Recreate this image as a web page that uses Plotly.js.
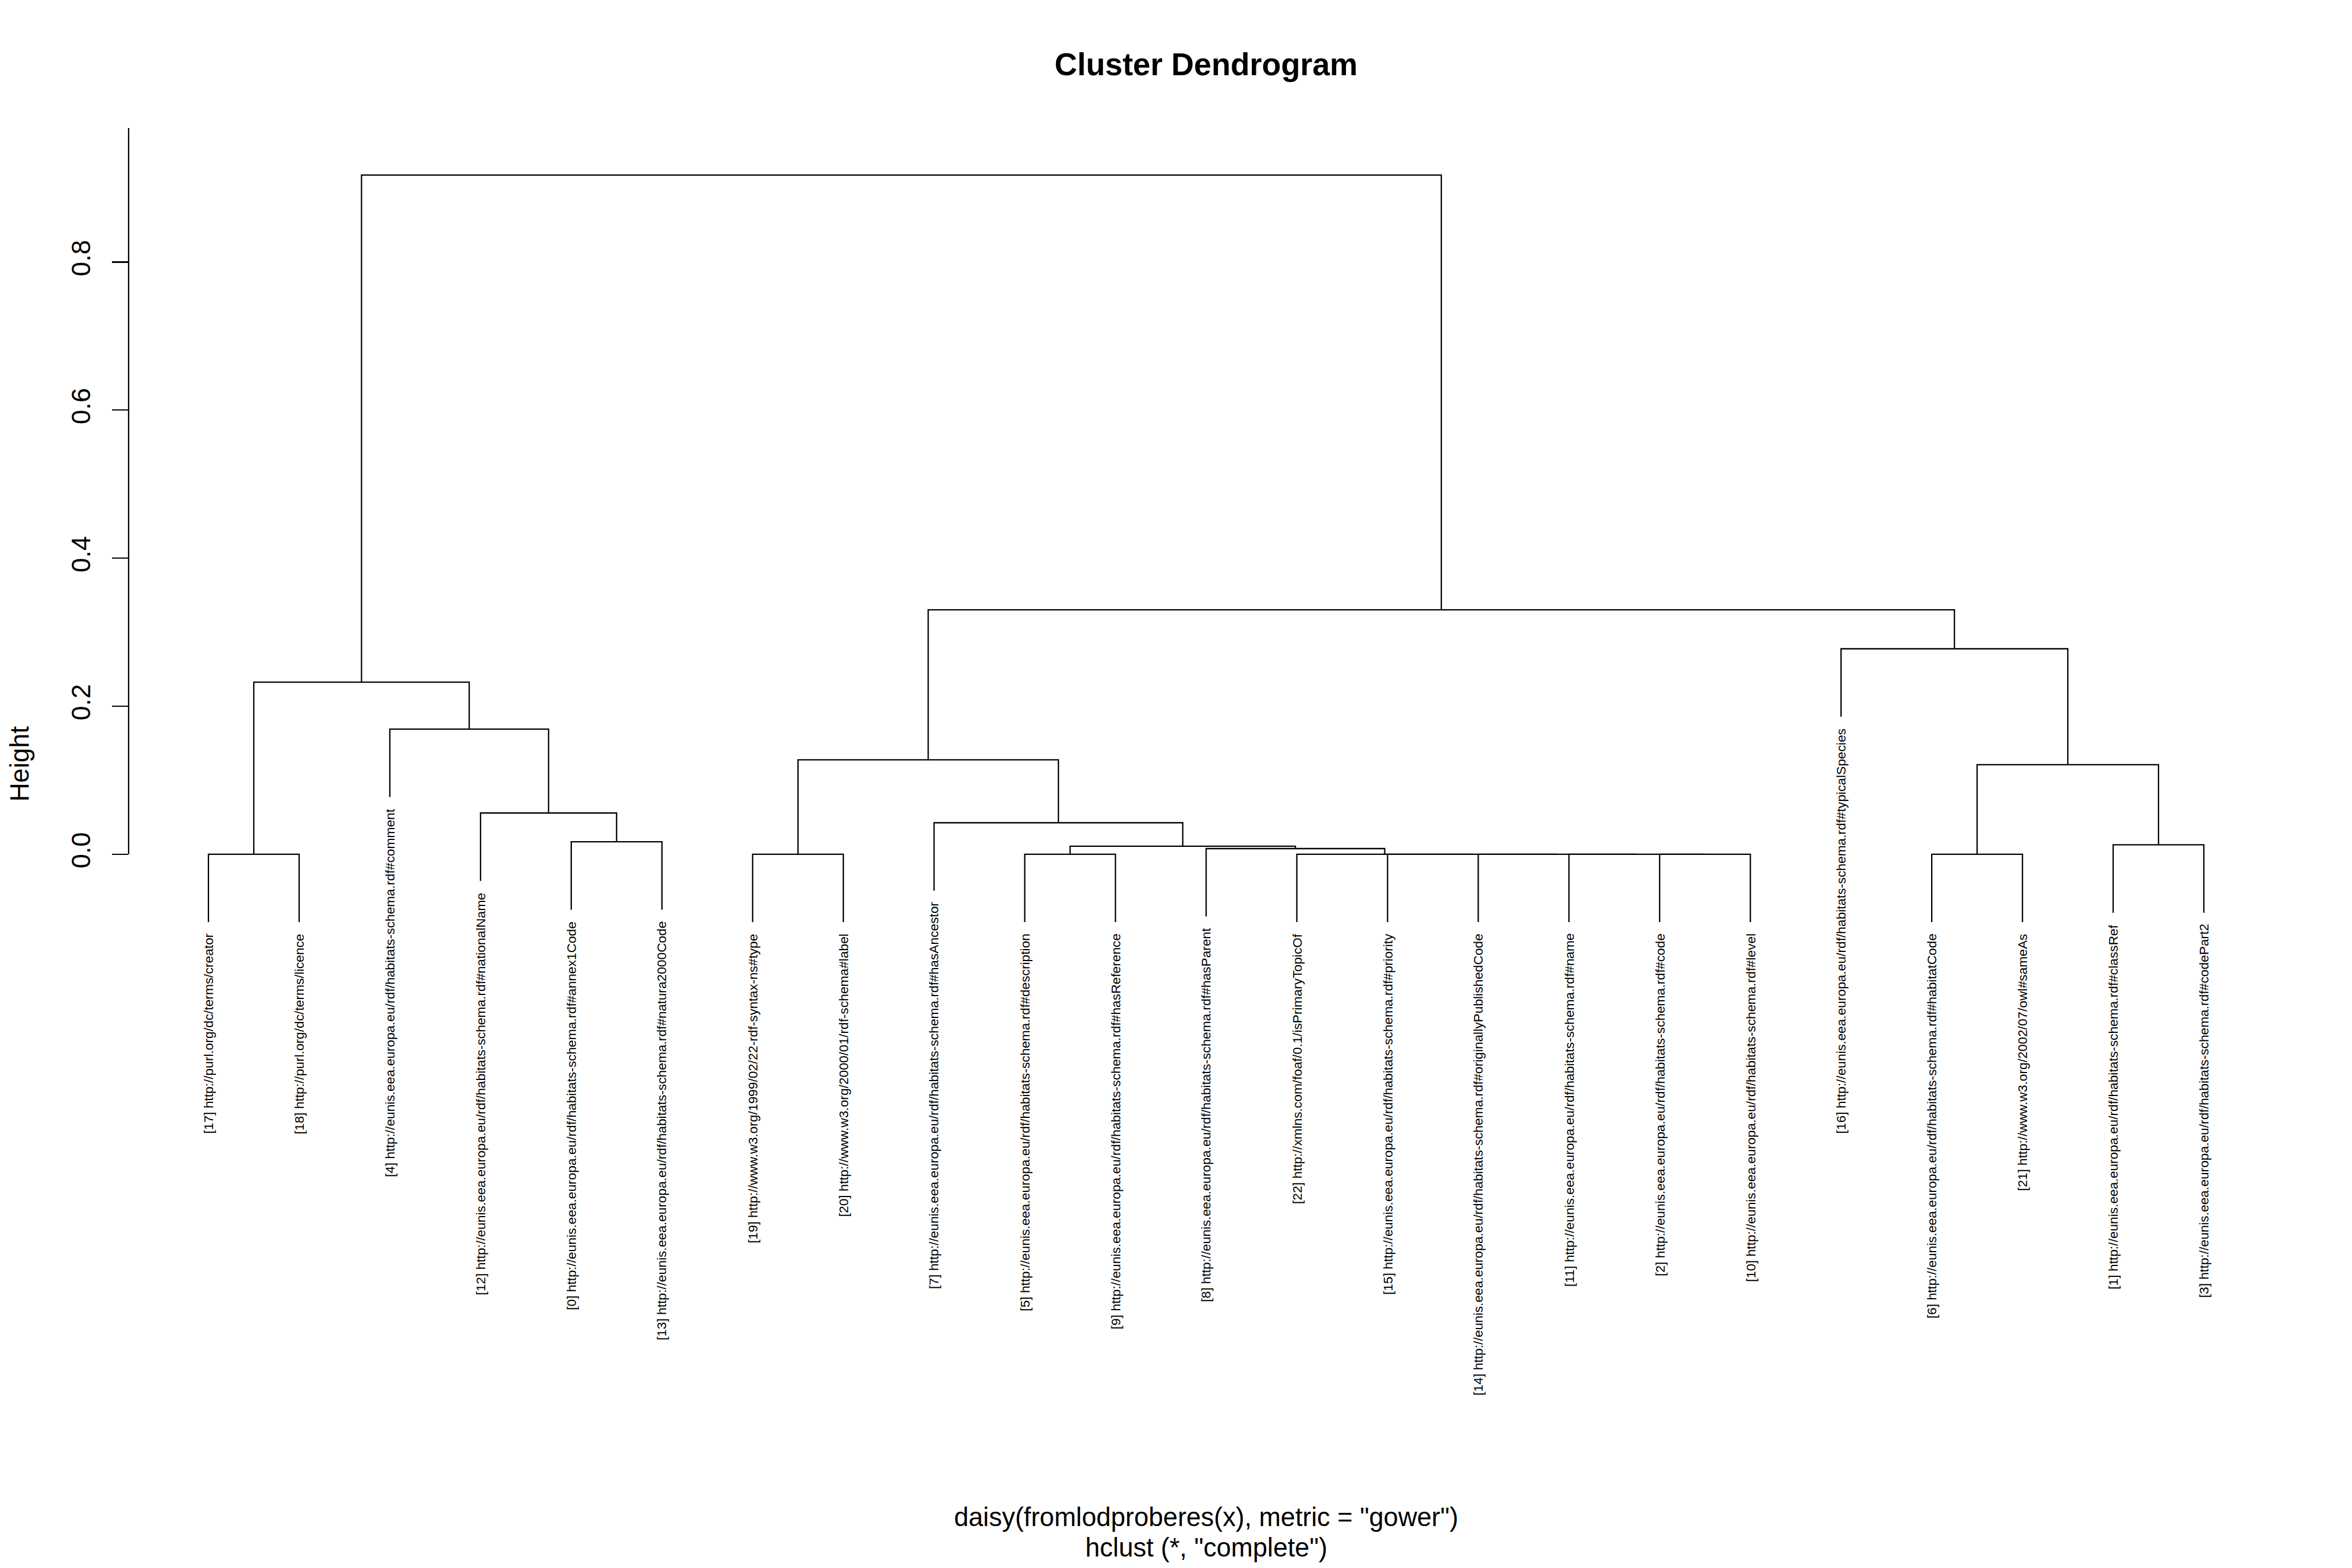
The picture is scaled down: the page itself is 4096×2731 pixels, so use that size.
<!DOCTYPE html>
<html><head><meta charset="utf-8">
<script src="https://cdn.plot.ly/plotly-3.0.1.min.js"></script>
<style>html,body{margin:0;padding:0;background:#fff;}#chart{width:4096px;height:2731px;}</style>
</head><body><div id="chart"></div>
<script>
// ---- data ----
const leafIds = ['[17]','[18]','[4]','[12]','[0]','[13]','[19]','[20]','[7]','[5]','[9]','[8]','[22]','[15]','[14]','[11]','[2]','[10]','[16]','[6]','[21]','[1]','[3]'];
const leafUris = [
 'http://purl.org/dc/terms/creator',
 'http://purl.org/dc/terms/licence',
 'http://eunis.eea.europa.eu/rdf/habitats-schema.rdf#comment',
 'http://eunis.eea.europa.eu/rdf/habitats-schema.rdf#nationalName',
 'http://eunis.eea.europa.eu/rdf/habitats-schema.rdf#annex1Code',
 'http://eunis.eea.europa.eu/rdf/habitats-schema.rdf#natura2000Code',
 'http://www.w3.org/1999/02/22-rdf-syntax-ns#type',
 'http://www.w3.org/2000/01/rdf-schema#label',
 'http://eunis.eea.europa.eu/rdf/habitats-schema.rdf#hasAncestor',
 'http://eunis.eea.europa.eu/rdf/habitats-schema.rdf#description',
 'http://eunis.eea.europa.eu/rdf/habitats-schema.rdf#hasReference',
 'http://eunis.eea.europa.eu/rdf/habitats-schema.rdf#hasParent',
 'http://xmlns.com/foaf/0.1/isPrimaryTopicOf',
 'http://eunis.eea.europa.eu/rdf/habitats-schema.rdf#priority',
 'http://eunis.eea.europa.eu/rdf/habitats-schema.rdf#originallyPublishedCode',
 'http://eunis.eea.europa.eu/rdf/habitats-schema.rdf#name',
 'http://eunis.eea.europa.eu/rdf/habitats-schema.rdf#code',
 'http://eunis.eea.europa.eu/rdf/habitats-schema.rdf#level',
 'http://eunis.eea.europa.eu/rdf/habitats-schema.rdf#typicalSpecies',
 'http://eunis.eea.europa.eu/rdf/habitats-schema.rdf#habitatCode',
 'http://www.w3.org/2002/07/owl#sameAs',
 'http://eunis.eea.europa.eu/rdf/habitats-schema.rdf#classRef',
 'http://eunis.eea.europa.eu/rdf/habitats-schema.rdf#codePart2'
];
// merge table (hclust style): negative = leaf position in plotted order, positive = earlier merge (1-based)
const mergeLeft   = [ -1,   -5,   -4,    -3,   1,    -7, -10, -17, -16, -15, -14, -13, -12,    7,     -9,    6,     -20, -22,   17,    -19,    16,    5];
const mergeRight  = [ -2,   -6,    2,     3,   4,    -8, -11, -18,   8,   9,  10,  11,  12,    13,    14,    15,    -21, -23,   18,     19,    20,   21];
const mergeHeight = [0.0, 0.0168, 0.0557, 0.169, 0.2325, 0.0, 0.0, 0.0, 0.0, 0.0, 0.0, 0.0, 0.0076, 0.0108, 0.0425, 0.1276, 0.0, 0.0127, 0.121, 0.2775, 0.3301, 0.9175];
const yTickVals = [0, 0.2, 0.4, 0.6, 0.8];
const titleText = 'Cluster Dendrogram';
const xLabel = 'daisy(fromlodproberes(x), metric = "gower")';
const subLabel = 'hclust (*, "complete")';
const yLabel = 'Height';

// ---- dendrogram geometry from the merge table ----
const n = leafIds.length;
const hmax = Math.max(...mergeHeight), hmin = Math.min(...mergeHeight);
const hang = 0.1 * (hmax - hmin);
const centre = [], xs = [], ys = [], leafBottom = new Array(n);
mergeHeight.forEach((h, k) => {
  const kids = [mergeLeft[k], mergeRight[k]];
  const p = kids.map(c => {
    if (c < 0) { leafBottom[-c - 1] = h - hang; return {x: -c, y: h - hang}; }
    return {x: centre[c - 1], y: mergeHeight[c - 1]};
  });
  xs.push(p[0].x, p[0].x, p[1].x, p[1].x, null);
  ys.push(p[0].y, h, h, p[1].y, null);
  centre.push((p[0].x + p[1].x) / 2);
});

const FONT = 'Liberation Sans, Arial, Helvetica, sans-serif';
const LW = 2.3;
const xRange = [1 - 0.04 * (n - 1), n + 0.04 * (n - 1)];
const yRange = [-0.737, 0.981];

const annotations = leafIds.map((id, i) => ({
  x: i + 1, y: leafBottom[i], xref: 'x', yref: 'y',
  text: id + ' ' + leafUris[i], textangle: -90, showarrow: false,
  xanchor: 'center', yanchor: 'top', yshift: -18,
  font: {family: FONT, size: 22.75, color: '#000'}
}));
annotations.push({
  x: 0.5, y: 0, xref: 'paper', yref: 'paper', text: subLabel, showarrow: false,
  xanchor: 'center', yanchor: 'top', yshift: -230,
  font: {family: FONT, size: 45.5, color: '#000'}
});

const trace = {
  x: xs, y: ys, type: 'scatter', mode: 'lines', hoverinfo: 'skip',
  line: {color: '#000', width: LW}, showlegend: false
};

const layout = {
  width: 4096, height: 2731,
  paper_bgcolor: '#fff', plot_bgcolor: '#fff',
  margin: {l: 224, r: 119, t: 223, b: 292.5, pad: 0},
  font: {family: FONT, color: '#000'},
  title: {text: titleText, x: 0.5, xref: 'paper', xanchor: 'center',
          y: 1 - 112.3 / 2731, yref: 'container', yanchor: 'middle',
          font: {family: FONT, size: 54.6, weight: 700, color: '#000'}},
  xaxis: {range: xRange, showticklabels: false, ticks: '', showline: false,
          showgrid: false, zeroline: false, fixedrange: true,
          title: {text: xLabel, font: {family: FONT, size: 45.5, color: '#000'}, standoff: 188}},
  yaxis: {range: yRange, tickvals: yTickVals, tickformat: '.1f', ticks: 'outside',
          ticklen: 28, tickwidth: LW, tickcolor: '#000', tickangle: -90,
          showline: false, showgrid: false, zeroline: false, fixedrange: true,
          tickfont: {family: FONT, size: 45.5, color: '#000'},
          ticklabelstandoff: 20,
          title: {text: yLabel, font: {family: FONT, size: 45.5, color: '#000'}, standoff: 50}},
  shapes: [{type: 'line', xref: 'paper', yref: 'y', x0: 0, x1: 0, y0: 0, y1: yRange[1],
            line: {color: '#000', width: LW}}],
  annotations: annotations
};

Plotly.newPlot('chart', [trace], layout, {displayModeBar: false, staticPlot: true});
</script>
</body></html>
